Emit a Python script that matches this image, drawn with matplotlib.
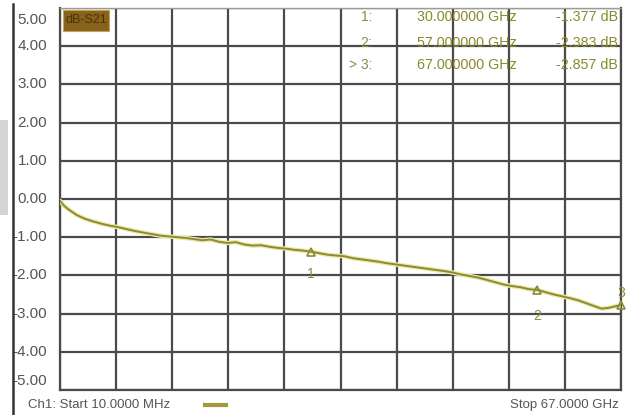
import matplotlib
matplotlib.use("Agg")
import matplotlib.pyplot as plt
import matplotlib.patches as pth
import matplotlib.transforms as mtrans

plt.rcParams['font.family'] = ['Liberation Sans', 'DejaVu Sans']

# trace (GHz, dB)
freq = [0.01, 0.5, 1.0, 2.0, 3.0, 4.0, 5.0, 6.0, 7.0, 8.0, 9.0, 10.0, 11.0, 12.0,
        13.0, 14.0, 15.0, 16.0, 17.0, 18.0, 19.0, 20.0, 21.0, 22.0, 23.0, 24.0,
        25.0, 26.0, 27.0, 28.0, 29.0, 30.0, 31.0, 32.0, 33.0, 34.0, 35.0, 36.0,
        37.0, 38.0, 39.0, 40.0, 41.0, 42.0, 43.0, 44.0, 45.0, 46.0, 47.0, 48.0,
        49.0, 50.0, 51.0, 52.0, 53.0, 54.0, 55.0, 56.0, 57.0, 58.0, 59.0, 60.0,
        61.0, 62.0, 63.0, 64.0, 64.7, 65.5, 66.3, 67.0]
s21 = [-0.05, -0.18, -0.27, -0.42, -0.52, -0.59, -0.65, -0.70, -0.74, -0.79, -0.84,
       -0.88, -0.92, -0.96, -0.98, -1.00, -1.02, -1.05, -1.08, -1.06, -1.12, -1.15,
       -1.13, -1.19, -1.22, -1.21, -1.25, -1.28, -1.30, -1.33, -1.35, -1.38, -1.42,
       -1.46, -1.48, -1.50, -1.55, -1.58, -1.61, -1.64, -1.68, -1.71, -1.74, -1.77,
       -1.80, -1.83, -1.86, -1.89, -1.93, -1.98, -2.02, -2.06, -2.12, -2.18, -2.24,
       -2.28, -2.31, -2.36, -2.38, -2.44, -2.50, -2.55, -2.60, -2.66, -2.74, -2.82,
       -2.87, -2.85, -2.81, -2.78]

mk_freq = [30.0, 57.0, 67.0]
mk_db = [-1.377, -2.383, -2.857]
mk_names = ["1:", "2:", "> 3:"]
mk_freq_txt = ["30.000000 GHz", "57.000000 GHz", "67.000000 GHz"]
mk_db_txt = ["-1.377 dB", "-2.383 dB", "-2.857 dB"]

yticks = [5, 4, 3, 2, 1, 0, -1, -2, -3, -4, -5]
ylabels = ["5.00", "4.00", "3.00", "2.00", "1.00", "0.00", "-1.00", "-2.00", "-3.00", "-4.00", "-5.00"]

W, H = 631, 415
fig = plt.figure(figsize=(W / 100, H / 100), dpi=100)
fig.patch.set_facecolor('white')

def fx(px):
    return px / W

def fy(py):
    return 1 - py / H

ax = fig.add_axes([fx(60), fy(390), fx(621) - fx(60), fy(8) - fy(390)])
lo, hi = -4.95, 4.87
ax.set_xlim(0, 67)
ax.set_ylim(lo, hi)
ax.set_xticks([67 * i / 10 for i in range(11)])
ax.set_yticks(yticks)
ax.tick_params(left=False, bottom=False, labelleft=False, labelbottom=False)
ax.grid(True, color='#4a4a4a', lw=1.6)
for sp in ax.spines.values():
    sp.set_color('#4a4a4a')
    sp.set_linewidth(1.6)
ax.spines['top'].set_color('#9a9a9a')
ax.spines['top'].set_linewidth(1.0)

# y labels, kept inside the visible range
tr = mtrans.blended_transform_factory(ax.transAxes, ax.transData)
for v, lab in zip(yticks, ylabels):
    yv = min(max(v, lo + 0.18), hi - 0.18)
    ax.text(-0.023, yv, lab, transform=tr, ha='right', va='center',
            fontsize=11, color='#555555', clip_on=False)

# trace
ax.plot(freq, s21, color='#ece8a8', lw=3.2, solid_capstyle='round', zorder=3)
ax.plot(freq, s21, color='#8c8a34', lw=1.4, zorder=4)

# markers
offs = [(0, -22), (0, -26), (0, 12)]
for f, d, o, n in zip(mk_freq, [-1.38, -2.38, -2.78], offs, ["1", "2", "3"]):
    ax.plot([f], [d], marker='^', ms=6, mfc='none', mec='#8c8a34', mew=1.2,
            zorder=5, clip_on=False)
    ax.annotate(n, (f, d), xytext=o, textcoords='offset pixels', ha='center',
                va='center', fontsize=10, color='#8c8a34', annotation_clip=False)

# marker table
rows = [17, 43, 65]
for r, a, b, c in zip(rows, mk_names, mk_freq_txt, mk_db_txt):
    fig.text(fx(372), fy(r), a, ha='right', va='center', fontsize=10, color='#8a8a50')
    fig.text(fx(517), fy(r), b, ha='right', va='center', fontsize=10.3, color='#8a8a2a')
    fig.text(fx(618), fy(r), c, ha='right', va='center', fontsize=10.3, color='#8a8a2a')

# trace name box
fig.patches.append(pth.Rectangle((fx(63), fy(31)), fx(46), fy(10) - fy(31),
                                 transform=fig.transFigure, facecolor='#86621a',
                                 edgecolor='#c8a060', lw=0.8))
fig.text(fx(86), fy(20), "dB-S21", ha='center', va='center', fontsize=9, color='#4a3408')

# footer
fig.text(fx(28), fy(405), "Ch1: Start 10.0000 MHz", ha='left', va='center',
         fontsize=9.5, color='#555555')
fig.lines.append(plt.Line2D([fx(205), fx(226)], [fy(405), fy(405)], transform=fig.transFigure,
                            color='#a09a3c', lw=3))
fig.text(fx(619), fy(405), "Stop 67.0000 GHz", ha='right', va='center',
         fontsize=9.5, color='#555555')

# screen edge bits on the left
fig.lines.append(plt.Line2D([fx(13), fx(13)], [fy(4), 0], transform=fig.transFigure,
                            color='#333333', lw=1.8))
fig.patches.append(pth.Rectangle((0, fy(215)), fx(8), fy(120) - fy(215),
                                 transform=fig.transFigure, facecolor='#d4d4d4',
                                 edgecolor='none'))

fig.savefig("out.png", dpi=100)
